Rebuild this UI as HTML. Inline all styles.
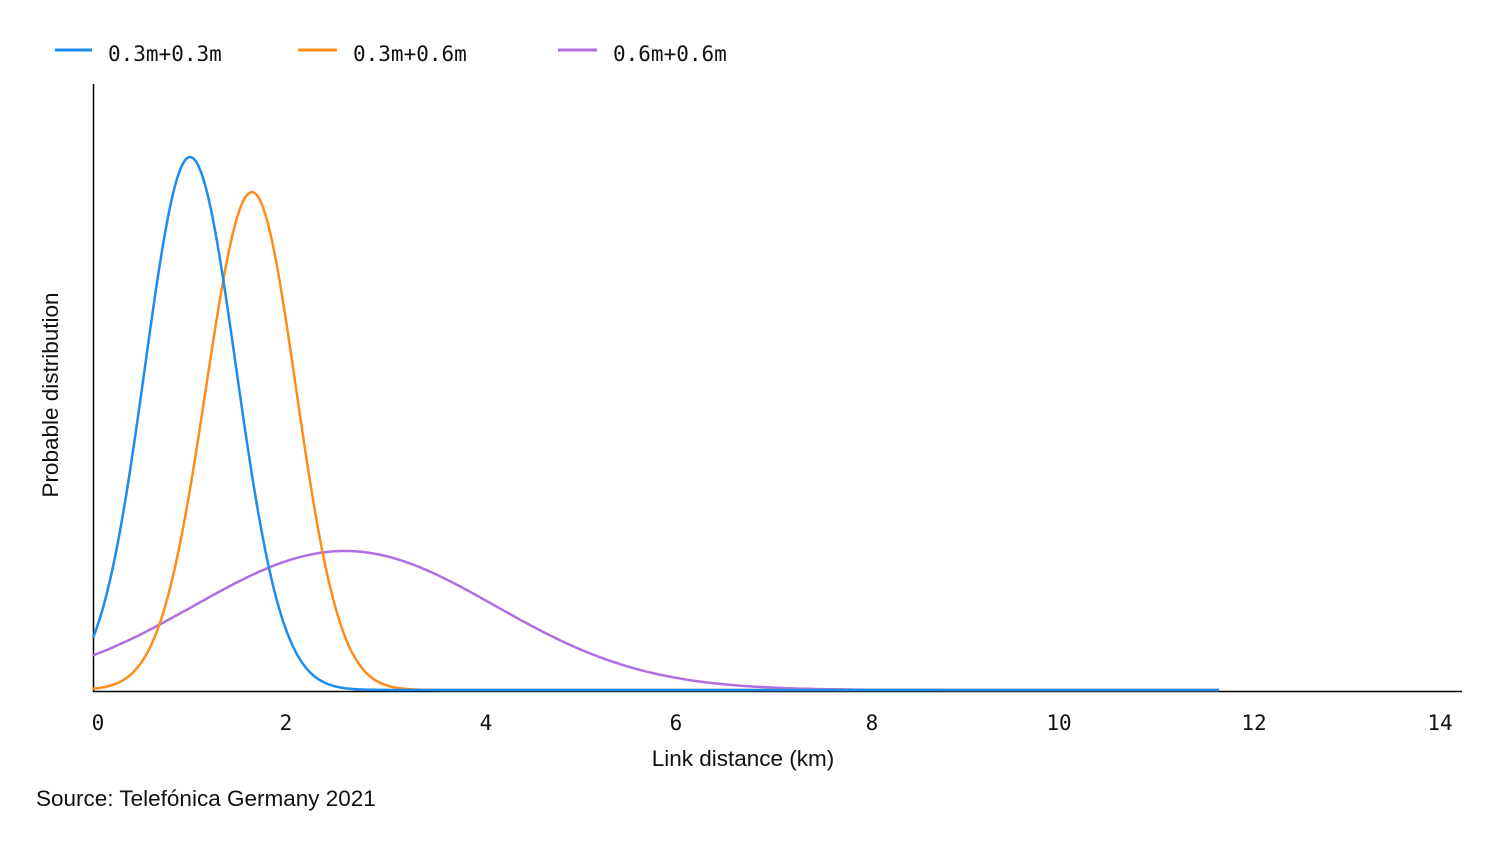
<!DOCTYPE html>
<html><head><meta charset="utf-8"><style>
body{margin:0;background:#fff;width:1500px;height:844px;overflow:hidden}
svg{display:block}
.m{font-family:"DejaVu Sans Mono","Liberation Mono",monospace;font-size:21px;fill:#111}
.s{font-family:"Liberation Sans",sans-serif;font-size:22.5px;fill:#111}
</style></head><body>
<svg width="1500" height="844" viewBox="0 0 1500 844">
<line x1="55" y1="50" x2="92" y2="50" stroke="#1a8cf0" stroke-width="3"/>
<text class="m" x="108" y="61">0.3m+0.3m</text>
<line x1="298" y1="50" x2="337" y2="50" stroke="#ff8c1a" stroke-width="3"/>
<text class="m" x="353" y="61">0.3m+0.6m</text>
<line x1="558" y1="50" x2="597" y2="50" stroke="#b06fe0" stroke-width="3"/>
<text class="m" x="613" y="61">0.6m+0.6m</text>
<line x1="93.5" y1="84" x2="93.5" y2="692" stroke="#000" stroke-width="1.5"/>
<line x1="93" y1="691.5" x2="1462" y2="691.5" stroke="#000" stroke-width="1.5"/>
<polyline id="p" fill="none" stroke="#b06fe0" stroke-width="2.5"/>
<polyline id="o" fill="none" stroke="#ff8c1a" stroke-width="2.5"/>
<polyline id="b" fill="none" stroke="#1a8cf0" stroke-width="2.5"/>
<g class="m" text-anchor="middle">
<text x="98" y="730">0</text><text x="286" y="730">2</text><text x="486" y="730">4</text><text x="676" y="730">6</text><text x="872" y="730">8</text><text x="1059" y="730">10</text><text x="1254" y="730">12</text><text x="1440" y="730">14</text>
</g>
<text class="s" x="743" y="766" text-anchor="middle">Link distance (km)</text>
<text class="s" transform="translate(58,395) rotate(-90)" text-anchor="middle">Probable distribution</text>
<text class="s" x="36" y="806">Source: Telefónica Germany 2021</text>
</svg>
<script>
function g(id,mu,h,sl,sr,end){var a=[];for(var x=93;x<=end;x+=2){var s=x<mu?sl:sr;var y=690-h*Math.exp(-Math.pow((x-mu)/s,2)/2);a.push(x+","+y.toFixed(1));}document.getElementById(id).setAttribute("points",a.join(" "));}
g("b",190,533,45,46,1220);
g("o",252,498,46,44,1220);
g("p",345,139,151,150,1220);
</script>
</body></html>
